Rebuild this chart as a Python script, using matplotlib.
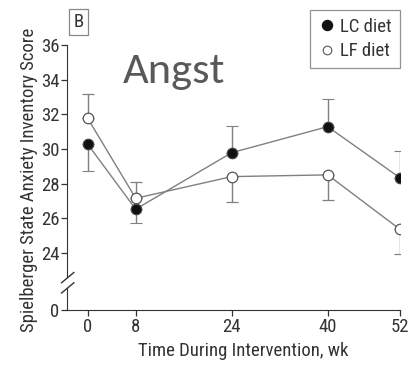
import matplotlib
matplotlib.use("Agg")
import matplotlib.pyplot as plt
from matplotlib.lines import Line2D

WEEKS = [0, 8, 24, 40, 52]
LC_MEAN = [30.28, 26.53, 29.79, 31.29, 28.35]
LF_MEAN = [31.77, 27.16, 28.41, 28.51, 25.38]
# asymmetric bars: only the side away from the other curve is drawn
LC_ERR_LOW = [1.54, 0.79, 0, 0, 0]
LC_ERR_HIGH = [0, 0, 1.52, 1.60, 1.56]
LF_ERR_LOW = [0, 0, 1.48, 1.44, 1.43]
LF_ERR_HIGH = [1.41, 0.93, 0, 0, 0]
Y_TICKS = [24, 26, 28, 30, 32, 34, 36]
LABELS = ["LC diet", "LF diet"]

NARROW = ["Roboto Condensed", "DejaVu Sans"]
GRIS = "#808080"
TEXTE = "#333333"

plt.rcParams["font.family"] = NARROW
plt.rcParams["font.size"] = 13.5

fig = plt.figure(figsize=(4.09, 3.67), dpi=100)
ax = fig.add_axes([0.1638, 0.2452, 0.8142, 0.6322])
ax_bas = fig.add_axes([0.1638, 0.1553, 0.8142, 0.06], sharex=ax)

style = dict(color=GRIS, lw=1.0, ms=7.6, capsize=4, elinewidth=1.0,
             capthick=1.0, ecolor=GRIS, zorder=3)
ax.errorbar(WEEKS, LC_MEAN, yerr=[LC_ERR_LOW, LC_ERR_HIGH], fmt="-o",
            mfc="#111111", mec="#444444", mew=0.8, **style)
ax.errorbar(WEEKS, LF_MEAN, yerr=[LF_ERR_LOW, LF_ERR_HIGH], fmt="-o",
            mfc="white", mec="#555555", mew=0.9, **style)

ax.set_xlim(-3.45, 52.05)
ax.set_ylim(22.62, 36)
ax.set_yticks(Y_TICKS)
for s in ["top", "right", "bottom"]:
    ax.spines[s].set_visible(False)
ax.spines["left"].set_color(TEXTE)
ax.tick_params(axis="x", bottom=False, labelbottom=False)
ax.tick_params(axis="y", direction="out", length=4, width=0.9,
               color=TEXTE, labelcolor=TEXTE, pad=1.5)

ax_bas.set_ylim(0, 1)
ax_bas.set_yticks([0])
ax_bas.set_xticks(WEEKS)
for s in ["top", "right"]:
    ax_bas.spines[s].set_visible(False)
for s in ["left", "bottom"]:
    ax_bas.spines[s].set_color(TEXTE)
ax_bas.patch.set_alpha(0)
ax_bas.tick_params(direction="out", length=4, width=0.9, color=TEXTE,
                   labelcolor=TEXTE, pad=1.5)
ax_bas.set_xlabel("Time During Intervention, wk", color=TEXTE)
ax_bas.xaxis.set_label_coords(0.528, -1.45)

# break marks on the y axis
for yb in [0.2435, 0.2155]:
    fig.add_artist(Line2D([0.1505, 0.1805], [yb - 0.014, yb + 0.014],
                          color=TEXTE, lw=1.0, transform=fig.transFigure))

fig.text(0.071, 0.51, "Spielberger State Anxiety Inventory Score",
         rotation=90, ha="center", va="center", color=TEXTE)

poignees = [
    Line2D([], [], ls="none", marker="o", ms=7.2, mfc="#111111", mec="#111111"),
    Line2D([], [], ls="none", marker="o", ms=6.2, mfc="white", mec="#555555", mew=0.8),
]
leg = ax.legend(poignees, LABELS, loc="upper right",
                bbox_to_anchor=(1.0, 1.151), frameon=True,
                fancybox=False, edgecolor="#777777", handlelength=1.0,
                handletextpad=0.2, borderpad=0.43, labelspacing=0.33,
                borderaxespad=0.0)
leg.get_frame().set_linewidth(0.9)
for t in leg.get_texts():
    t.set_color(TEXTE)

fig.text(0.1925, 0.94, "B", ha="center", va="center", color=TEXTE,
         fontsize=13.5,
         bbox=dict(boxstyle="square,pad=0.22", fc="white", ec="#888888", lw=0.9))

fig.text(0.3, 0.805, "Angst", color="#595959", fontsize=32,
         family=["Carlito", "Open Sans", "DejaVu Sans"], ha="left", va="center")

fig.savefig("out.png", dpi=100)
